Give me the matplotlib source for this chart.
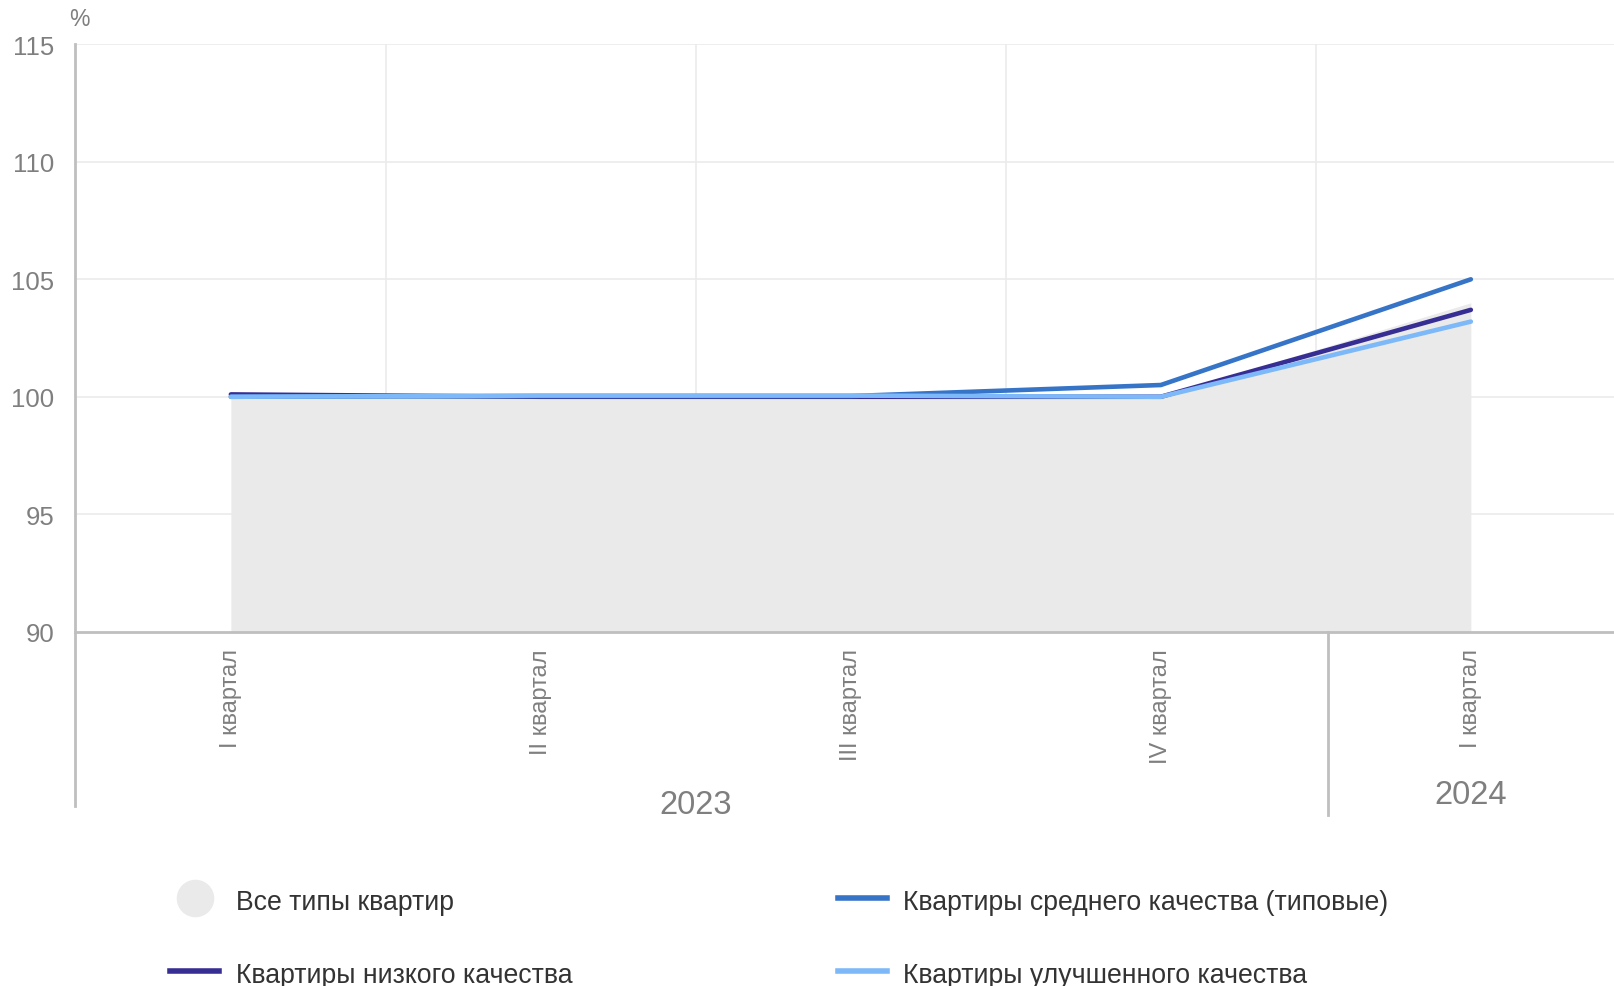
import matplotlib
matplotlib.use("Agg")
import matplotlib.pyplot as plt
from matplotlib.lines import Line2D

plt.rcParams['font.family'] = ['Liberation Sans', 'DejaVu Sans']

# данные
quarters = ["I квартал", "II квартал", "III квартал", "IV квартал", "I квартал"]
years = ["2023", "2024"]
all_types = [100.0, 100.0, 100.0, 100.0, 104.0]
low_quality = [100.1, 100.0, 100.0, 100.0, 103.7]
mid_quality = [100.0, 100.03, 100.03, 100.5, 105.0]
improved = [100.0, 100.05, 100.05, 100.0, 103.2]

labels = ["Все типы квартир", "Квартиры низкого качества",
          "Квартиры среднего качества (типовые)", "Квартиры улучшенного качества"]
c_area = "#EAEAEA"
c_low = "#372E93"
c_mid = "#3674C8"
c_imp = "#7DB8F8"
grid_c = "#EBEBEB"
axis_c = "#BFBFBF"
tick_c = "#7F7F7F"
text_c = "#333333"

fig = plt.figure(figsize=(16.15, 9.87), dpi=100)
ax = fig.add_axes([0.0464, 0.359, 0.9536, 0.595])

x = list(range(len(quarters)))
ax.fill_between(x, 90, all_types, color=c_area, lw=0, zorder=1)
ax.plot(x, low_quality, color=c_low, lw=3.3, solid_capstyle='round', zorder=3)
ax.plot(x, mid_quality, color=c_mid, lw=3.3, solid_capstyle='round', zorder=4)
ax.plot(x, improved, color=c_imp, lw=3.3, solid_capstyle='round', zorder=5)

ax.set_xlim(-0.503, 4.465)
ax.set_ylim(90, 115)
ax.set_yticks(range(90, 116, 5))
ax.set_xticks([])
ax.tick_params(axis='y', length=0, pad=15, labelsize=18.5, labelcolor=tick_c)

for yv in range(95, 116, 5):
    ax.axhline(yv, color=grid_c, lw=1.2, zorder=0)
for xv in [0.5, 1.5, 2.5, 3.5]:
    ax.axvline(xv, color=grid_c, lw=1.2, zorder=0)

for s in ['top', 'right']:
    ax.spines[s].set_visible(False)
ax.spines['left'].set_color(axis_c)
ax.spines['left'].set_linewidth(2)
ax.spines['bottom'].set_color(axis_c)
ax.spines['bottom'].set_linewidth(2)
ax.spines['bottom'].set_zorder(6)

# подписи кварталов
for i, q in enumerate(quarters):
    ax.text(i, -0.028, q, transform=ax.get_xaxis_transform(), rotation=90,
            ha='center', va='top', fontsize=17, color=tick_c)

# продолжение оси и разделитель годов
ax.plot([-0.503, -0.503], [0, -0.297], transform=ax.get_xaxis_transform(),
        color=axis_c, lw=2, clip_on=False)
ax.plot([3.54, 3.54], [0, -0.313], transform=ax.get_xaxis_transform(),
        color=axis_c, lw=2, clip_on=False)
ax.text(1.5, -0.294, years[0], transform=ax.get_xaxis_transform(),
        ha='center', va='center', fontsize=23.5, color=tick_c)
ax.text(4.0, -0.277, years[1], transform=ax.get_xaxis_transform(),
        ha='center', va='center', fontsize=23.5, color=tick_c)

fig.text(79 / 1615, 1 - 19 / 987, "%", ha='center', va='center',
         fontsize=16.5, color=tick_c)

# легенда
def fx(px):
    return px / 1615

def fy(py):
    return 1 - py / 987

fig.add_artist(Line2D([fx(195)], [fy(899)], marker='o', markersize=26,
                      color=c_area, lw=0))
fig.text(fx(236), fy(903), labels[0], ha='left', va='center', fontsize=19.2, color=text_c)
fig.add_artist(Line2D([fx(170), fx(219)], [fy(972), fy(972)], color=c_low, lw=4))
fig.text(fx(236), fy(976), labels[1], ha='left', va='center', fontsize=19.2, color=text_c)
fig.add_artist(Line2D([fx(838), fx(887)], [fy(899), fy(899)], color=c_mid, lw=4))
fig.text(fx(903), fy(903), labels[2], ha='left', va='center', fontsize=19.2, color=text_c)
fig.add_artist(Line2D([fx(838), fx(887)], [fy(972), fy(972)], color=c_imp, lw=4))
fig.text(fx(903), fy(976), labels[3], ha='left', va='center', fontsize=19.2, color=text_c)

fig.savefig("out.png", dpi=100)
